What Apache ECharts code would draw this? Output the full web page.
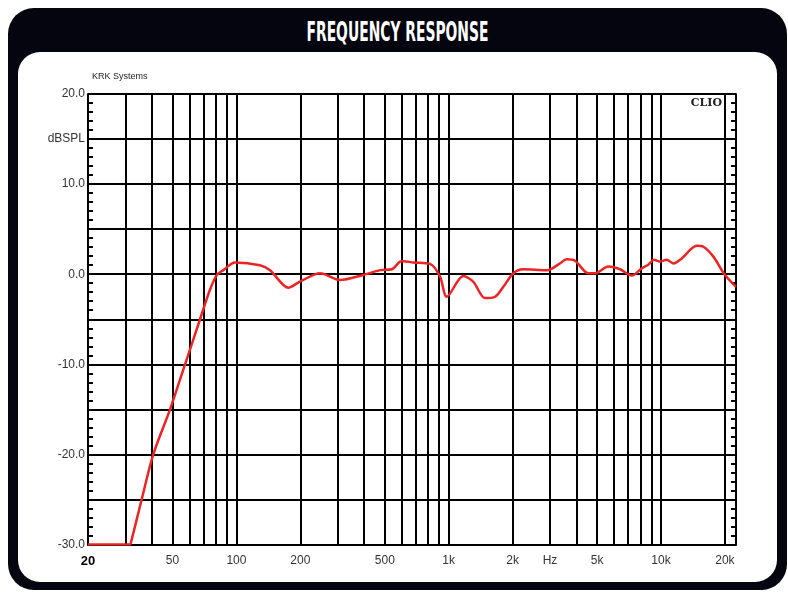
<!DOCTYPE html>
<html>
<head>
<meta charset="utf-8">
<script src="https://cdn.jsdelivr.net/npm/echarts@6/dist/echarts.min.js"></script>
<style>
  html, body { margin: 0; padding: 0; width: 788px; height: 592px; overflow: hidden; background: #fff; }
  #frame { position: absolute; left: 8px; top: 8px; width: 779px; height: 582px; background: #05050f; border-radius: 26px; }
  #panel { position: absolute; left: 18px; top: 52px; width: 759px; height: 530px; background: #fff; border-radius: 22px; }
  #title { position: absolute; left: 0; top: 19px; width: 795px; text-align: center; }
  #title span { display: inline-block; color: #fff; font: bold 26px/26px "DejaVu Sans Condensed", "DejaVu Sans", sans-serif; transform-origin: center; white-space: nowrap; }
  #chart { position: absolute; left: 0; top: 0; width: 788px; height: 592px; }
</style>
</head>
<body>
<div id="frame"></div>
<div id="panel"></div>
<div id="title"><span id="titleText">FREQUENCY RESPONSE</span></div>
<div id="chart"></div>
<script>
// frequency response (Hz / dB SPL)
const freqHz = [20, 31.5, 32, 35.8, 40.6, 48.7, 57.3, 67.4, 75, 80.8, 86.8, 98.5, 129, 144, 175.6, 200, 248, 308, 396, 475, 540, 590, 611, 681, 816, 910, 979, 1172, 1307, 1483, 1653, 1808, 2016, 2245, 2896, 3000, 3344, 3596, 3935, 4547, 4887, 5648, 6412, 7278, 8110, 8710, 9270, 9890, 10640, 11430, 12520, 14730, 15820, 17640, 20020, 22550];
const splDb = [-30, -30, -29.6, -25, -20, -15, -10, -5, -1.75, -0.1, 0.45, 1.3, 1.0, 0.45, -1.5, -0.8, 0.1, -0.65, -0.08, 0.45, 0.55, 1.4, 1.45, 1.3, 1.15, -0.25, -2.5, -0.2, -0.85, -2.65, -2.5, -1.4, 0.1, 0.55, 0.45, 0.5, 1.2, 1.65, 1.5, 0.1, 0.1, 0.85, 0.55, -0.15, 0.65, 1.05, 1.6, 1.4, 1.6, 1.2, 1.75, 3.15, 3.05, 1.95, -0.1, -1.4];

const gridFreqs = [30, 40, 50, 60, 70, 80, 90, 100, 200, 300, 400, 500, 600, 700, 800, 900, 1000, 2000, 3000, 4000, 5000, 6000, 7000, 8000, 9000, 10000, 20000];
const labelFreqs = [20, 50, 100, 200, 500, 1000, 2000, 3000, 5000, 10000, 20000];
const labelText = ["20", "50", "100", "200", "500", "1k", "2k", "Hz", "5k", "10k", "20k"];
const fMin = 20, fMax = 22550;
const yMin = -30, yMax = 20, yStep = 5;

// squeeze the title into the condensed look
const t = document.getElementById("titleText");
t.style.transform = "scaleX(" + (182 / t.offsetWidth) + ")";

const chart = echarts.init(document.getElementById("chart"), null, { renderer: "canvas" });

const labelFor = (v) => {
  const i = labelFreqs.findIndex((f) => Math.abs(Math.log10(f) - v) < 1e-6);
  if (i < 0) return "";
  return i === 0 ? "{b|" + labelText[i] + "}" : labelText[i];
};

const yAxisBase = {
  type: "value",
  min: yMin,
  max: yMax,
  interval: yStep,
  axisLine: { show: true, onZero: false, lineStyle: { color: "#000", width: 2 } },
  axisTick: { show: true, inside: true, length: 5, lineStyle: { color: "#000", width: 2 } },
  minorTick: { show: true, splitNumber: 5, length: 5, lineStyle: { color: "#000", width: 2 } },
};

chart.setOption({
  animation: false,
  backgroundColor: "transparent",
  textStyle: { fontFamily: "Liberation Sans, Arial, sans-serif" },
  grid: { left: 88, top: 94, width: 648, height: 450.5, containLabel: false },
  graphic: [
    { type: "text", left: 92, top: 72, style: { text: "KRK Systems", fill: "#222", font: "9px Liberation Sans" } },
    { type: "text", right: 66, top: 98, style: { text: "CLIO", fill: "#222", font: "bold 11px DejaVu Serif" } },
  ],
  xAxis: {
    type: "value",
    min: Math.log10(fMin),
    max: Math.log10(fMax),
    axisLine: { show: true, onZero: false, lineStyle: { color: "#000", width: 2 } },
    axisTick: { show: false, customValues: gridFreqs.map(Math.log10) },
    splitLine: { show: true, lineStyle: { color: "#000", width: 2 } },
    axisLabel: {
      customValues: labelFreqs.map(Math.log10),
      formatter: labelFor,
      color: "#333",
      fontSize: 12,
      margin: 10,
      rich: { b: { fontWeight: "bold", fontSize: 13, color: "#000" } },
    },
  },
  yAxis: [
    Object.assign({}, yAxisBase, {
      position: "left",
      splitLine: { show: true, lineStyle: { color: "#000", width: 2 } },
      axisLabel: {
        color: "#333",
        fontSize: 12,
        margin: 3,
        formatter: (v) => (v === 15 ? "dBSPL" : v % 10 === 0 ? v.toFixed(1) : ""),
      },
    }),
    Object.assign({}, yAxisBase, {
      position: "right",
      splitLine: { show: false },
      axisLabel: { show: false },
    }),
  ],
  series: [
    {
      type: "line",
      data: freqHz.map((f, i) => [Math.log10(f), splDb[i]]),
      showSymbol: false,
      smooth: 0.3,
      lineStyle: { color: "#ee2424", width: 2.5 },
      z: 5,
    },
  ],
});
</script>
</body>
</html>
